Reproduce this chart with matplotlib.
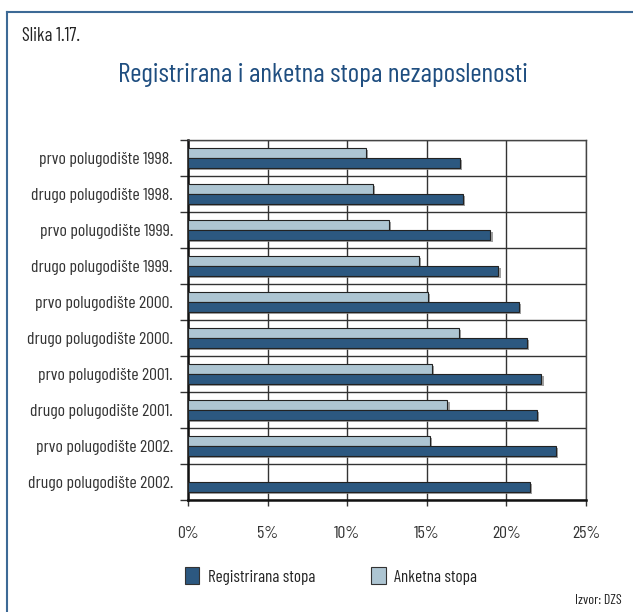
import matplotlib
matplotlib.use("Agg")
import matplotlib.pyplot as plt
from matplotlib.patches import Patch
from matplotlib.lines import Line2D
import matplotlib.patheffects as pe
import numpy as np

categories = [
    "prvo polugodište 1998.", "drugo polugodište 1998.",
    "prvo polugodište 1999.", "drugo polugodište 1999.",
    "prvo polugodište 2000.", "drugo polugodište 2000.",
    "prvo polugodište 2001.", "drugo polugodište 2001.",
    "prvo polugodište 2002.", "drugo polugodište 2002.",
]
registrirana = [17.1, 17.3, 19.0, 19.5, 20.8, 21.3, 22.2, 21.9, 23.1, 21.5]
anketna = [11.2, 11.6, 12.6, 14.5, 15.1, 17.0, 15.3, 16.3, 15.2, np.nan]
xticks = [0, 5, 10, 15, 20, 25]
xticklabels = ["0%", "5%", "10%", "15%", "20%", "25%"]

FONT = ["Barlow Condensed", "DejaVu Sans"]
plt.rcParams['font.family'] = FONT

W, H = 633, 612
fig = plt.figure(figsize=(W / 100, H / 100), dpi=100)
fig.patch.set_facecolor("white")

ax = fig.add_axes([188 / W, 1 - 500 / H, (586 - 188) / W, (500 - 140) / H])

dark = "#2c5880"
light = "#adc5d2"
y = np.arange(len(categories))
bh = 0.285
shadow = [pe.SimplePatchShadow(offset=(1.5, -1.5), shadow_rgbFace="#888888", alpha=0.8), pe.Normal()]
b1 = ax.barh(y - bh / 2, anketna, height=bh, color=light, edgecolor="#222222", linewidth=0.8, zorder=3)
b2 = ax.barh(y + bh / 2, registrirana, height=bh, color=dark, edgecolor="#222222", linewidth=0.8, zorder=3)
for b in list(b1) + list(b2):
    b.set_path_effects(shadow)

ax.set_ylim(len(categories) - 0.5, -0.5)
ax.set_xlim(0, 25)
ax.set_yticks(y)
ax.set_yticklabels(categories, fontsize=12.8, color="#333333")
ax.tick_params(axis="y", which="major", length=0, pad=10.8)
ax.set_yticks(np.arange(-0.5, len(categories), 1.0), minor=True)
ax.tick_params(axis="y", which="minor", length=6, width=1, color="#333333", direction="out")
ax.set_xticks(xticks)
ax.set_xticklabels(xticklabels, fontsize=12.8, color="#333333")
ax.tick_params(axis="x", length=4, width=1, color="#333333", pad=14.5)

ax.grid(axis="x", which="major", color="#333333", linewidth=1.0, zorder=0)
ax.grid(axis="y", which="minor", color="#333333", linewidth=1.0, zorder=0)
ax.set_axisbelow(True)

for s in ["top", "right"]:
    ax.spines[s].set_color("#444444")
    ax.spines[s].set_linewidth(1.0)
for s in ["left", "bottom"]:
    ax.spines[s].set_color("#111111")
    ax.spines[s].set_linewidth(1.8)

# frame lines
fig.add_artist(Line2D([7 / W, 7 / W], [0, 1 - 12 / H], transform=fig.transFigure, color="#3d6a96", linewidth=1.5))
fig.add_artist(Line2D([7 / W, 1], [1 - 12 / H, 1 - 12 / H], transform=fig.transFigure, color="#3d6a96", linewidth=1.5))

fig.text(22 / W, 1 - 36 / H, "Slika 1.17.", fontsize=13.5, color="#222222", va="center", ha="left")
fig.text(323 / W, 1 - 75 / H, "Registrirana i anketna stopa nezaposlenosti", fontsize=19.8,
         color="#1f4e80", va="center", ha="center")

handles = [Patch(facecolor=dark, edgecolor="#333333", linewidth=0.8),
           Patch(facecolor=light, edgecolor="#333333", linewidth=0.8)]
fig.legend(handles, ["Registrirana stopa", "Anketna stopa"], loc="center",
           bbox_to_anchor=(331 / W, 1 - 576 / H), ncol=2, frameon=False,
           fontsize=12.3, handlelength=0.85, handleheight=1.1, columnspacing=3.3,
           handletextpad=0.5, labelcolor="#222222")

fig.text(622 / W, 1 - 601 / H, "Izvor: DZS", fontsize=10, color="#222222", ha="right", va="center")

fig.savefig("out.png", dpi=100, facecolor="white")
